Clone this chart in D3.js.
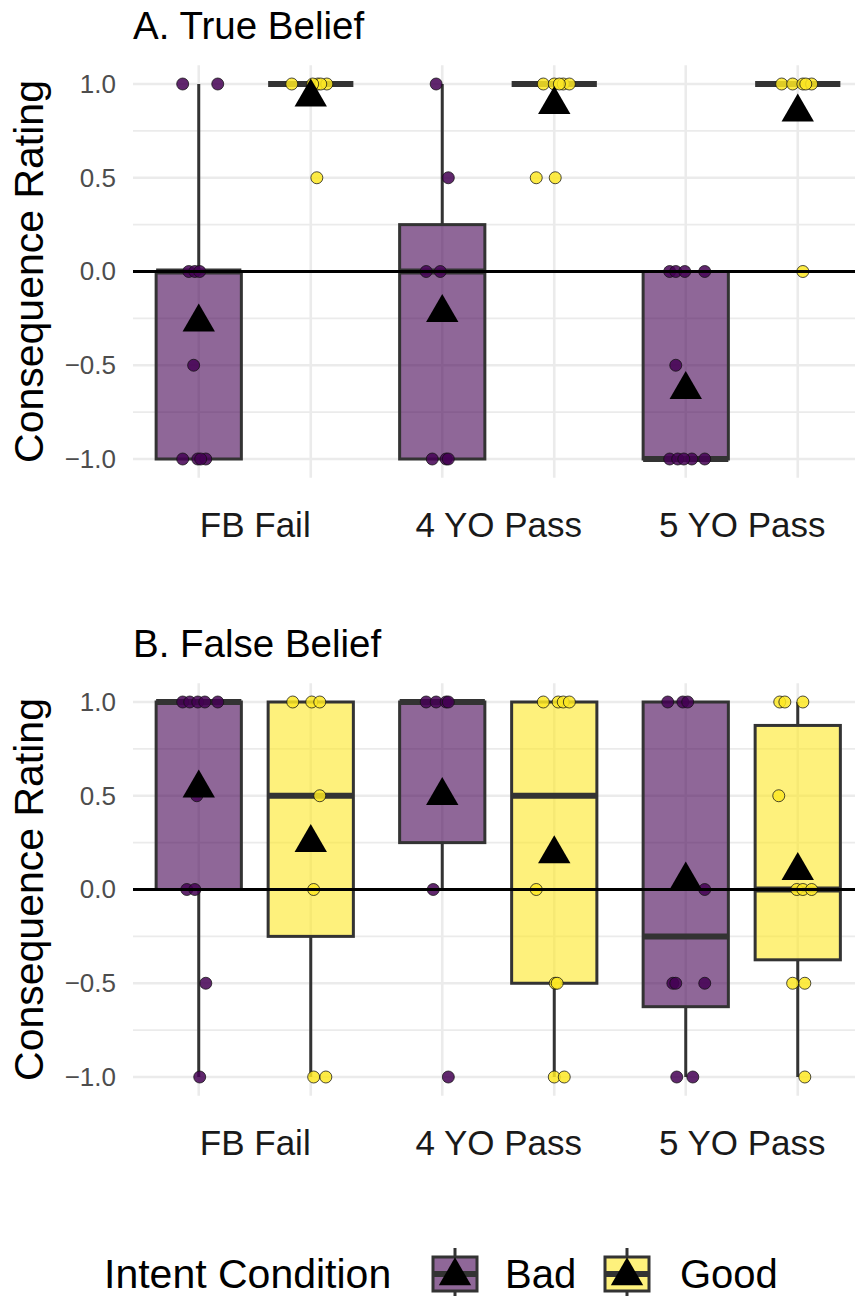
<!DOCTYPE html>
<html>
<head>
<meta charset="utf-8">
<script src="https://cdn.jsdelivr.net/npm/d3@7"></script>
<style>
  html, body { margin: 0; padding: 0; background: #fff; }
  svg { display: block; font-family: "Liberation Sans", Arial, Helvetica, sans-serif; }
</style>
</head>
<body>
<svg id="chart" width="855" height="1296"></svg>
<script>
// Categories, conditions and axis ticks
const categories = ["FB Fail", "4 YO Pass", "5 YO Pass"];
const conditions = ["Bad", "Good"];
const yMajorTicks = [-1, -0.5, 0, 0.5, 1];
const yMinorTicks = [-0.75, -0.25, 0.25, 0.75];
const panelTitles = ["A. True Belief", "B. False Belief"];
const legendTitle = "Intent Condition";

// Box summaries: [category, condition, lower whisker, q1, median, q3, upper whisker, mean]
const trueBeliefBoxes = [
  ["FB Fail",   "Bad",  -1, -1,    0,    0,    1,  -0.27],
  ["FB Fail",   "Good",  1,  1,    1,    1,    1,   0.93],
  ["4 YO Pass", "Bad",  -1, -1,    0,    0.25, 1,  -0.22],
  ["4 YO Pass", "Good",  1,  1,    1,    1,    1,   0.89],
  ["5 YO Pass", "Bad",  -1, -1,   -1,    0,    0,  -0.63],
  ["5 YO Pass", "Good",  1,  1,    1,    1,    1,   0.85]
];
const falseBeliefBoxes = [
  ["FB Fail",   "Bad",  -1,  0,     1,    1,     1,  0.54],
  ["FB Fail",   "Good", -1, -0.25,  0.5,  1,     1,  0.25],
  ["4 YO Pass", "Bad",   0,  0.25,  1,    1,     1,  0.50],
  ["4 YO Pass", "Good", -1, -0.5,   0.5,  1,     1,  0.19],
  ["5 YO Pass", "Bad",  -1, -0.625,-0.25, 1,     1,  0.05],
  ["5 YO Pass", "Good", -1, -0.375, 0,    0.875, 1,  0.10]
];

// Individual ratings: [category, condition, rating, jitter (fraction of category spacing)]
const trueBeliefPoints = [
  ["FB Fail","Bad",1,-0.066],["FB Fail","Bad",1,0.078],["FB Fail","Bad",0,-0.041],["FB Fail","Bad",0,-0.016],
  ["FB Fail","Bad",0,0.004],["FB Fail","Bad",-0.5,-0.021],["FB Fail","Bad",-1,-0.066],["FB Fail","Bad",-1,-0.004],
  ["FB Fail","Bad",-1,0.029],["FB Fail","Bad",-1,0.008],
  ["FB Fail","Good",1,-0.078],["FB Fail","Good",1,0.029],["FB Fail","Good",1,0.066],["FB Fail","Good",1,0.041],
  ["FB Fail","Good",1,0.008],["FB Fail","Good",0.5,0.025],
  ["4 YO Pass","Bad",1,-0.025],["4 YO Pass","Bad",0.5,0.025],["4 YO Pass","Bad",0,-0.066],["4 YO Pass","Bad",0,-0.008],
  ["4 YO Pass","Bad",-1,-0.041],["4 YO Pass","Bad",-1,0.016],["4 YO Pass","Bad",-1,0.025],
  ["4 YO Pass","Good",1,-0.045],["4 YO Pass","Good",1,0],["4 YO Pass","Good",1,0.037],["4 YO Pass","Good",1,0.062],
  ["4 YO Pass","Good",1,0.021],["4 YO Pass","Good",0.5,-0.074],["4 YO Pass","Good",0.5,0.004],
  ["5 YO Pass","Bad",0,-0.066],["5 YO Pass","Bad",0,-0.041],["5 YO Pass","Bad",0,-0.004],["5 YO Pass","Bad",0,0.078],
  ["5 YO Pass","Bad",-0.5,-0.041],["5 YO Pass","Bad",-1,-0.066],["5 YO Pass","Bad",-1,-0.033],["5 YO Pass","Bad",-1,0.025],
  ["5 YO Pass","Bad",-1,0.078],["5 YO Pass","Bad",-1,-0.008],
  ["5 YO Pass","Good",1,-0.066],["5 YO Pass","Good",1,-0.021],["5 YO Pass","Good",1,0.021],["5 YO Pass","Good",1,0.057],
  ["5 YO Pass","Good",1,0.033],["5 YO Pass","Good",0,0.021]
];
const falseBeliefPoints = [
  ["FB Fail","Bad",1,-0.066],["FB Fail","Bad",1,-0.037],["FB Fail","Bad",1,-0.004],["FB Fail","Bad",1,0.025],
  ["FB Fail","Bad",1,0.078],["FB Fail","Bad",0.5,-0.008],["FB Fail","Bad",0,-0.049],["FB Fail","Bad",0,-0.016],
  ["FB Fail","Bad",-0.5,0.029],["FB Fail","Bad",-1,0.004],
  ["FB Fail","Good",1,-0.074],["FB Fail","Good",1,0.004],["FB Fail","Good",1,0.037],["FB Fail","Good",0.5,0.037],
  ["FB Fail","Good",0,0.012],["FB Fail","Good",-1,0.012],["FB Fail","Good",-1,0.062],
  ["4 YO Pass","Bad",1,-0.066],["4 YO Pass","Bad",1,-0.025],["4 YO Pass","Bad",1,0.016],["4 YO Pass","Bad",1,0.025],
  ["4 YO Pass","Bad",0,-0.037],["4 YO Pass","Bad",-1,0.025],
  ["4 YO Pass","Good",1,-0.045],["4 YO Pass","Good",1,0.016],["4 YO Pass","Good",1,0.037],["4 YO Pass","Good",1,0.062],
  ["4 YO Pass","Good",0,-0.074],["4 YO Pass","Good",-0.5,0.004],["4 YO Pass","Good",-0.5,0.012],
  ["4 YO Pass","Good",-1,0],["4 YO Pass","Good",-1,0.041],
  ["5 YO Pass","Bad",1,-0.074],["5 YO Pass","Bad",1,-0.012],["5 YO Pass","Bad",1,0.008],["5 YO Pass","Bad",0,0.078],
  ["5 YO Pass","Bad",-0.5,-0.053],["5 YO Pass","Bad",-0.5,-0.041],["5 YO Pass","Bad",-0.5,0.078],
  ["5 YO Pass","Bad",-1,-0.037],["5 YO Pass","Bad",-1,0.029],
  ["5 YO Pass","Good",1,-0.074],["5 YO Pass","Good",1,-0.053],["5 YO Pass","Good",1,0.021],["5 YO Pass","Good",0.5,-0.078],
  ["5 YO Pass","Good",0,-0.004],["5 YO Pass","Good",0,0.021],["5 YO Pass","Good",0,0.057],
  ["5 YO Pass","Good",-0.5,-0.021],["5 YO Pass","Good",-0.5,0.029],["5 YO Pass","Good",-1,0.029]
];

// Styling
const pointFill = { Bad: "#440154", Good: "#FDE725" };
const boxAlpha = 0.6;
const boxStroke = "#333333";
const gridColor = "#ebebeb";
const W = 855, H = 1296;

const svg = d3.select("#chart");

// Shared horizontal scales
const x = d3.scalePoint().domain(categories).range([133, 863.5]).padding(0.5);
const step = x.step();
const dodge = d3.scaleBand().domain(conditions).range([-0.46 * step, 0.46 * step]);
const xPos = (cat, cond) => x(cat) + dodge(cond) + dodge.bandwidth() / 2;
const boxWidth = 0.35 * step;
const meanSymbol = d3.symbol().type(d3.symbolTriangle).size(454);

function drawPanel(panelIndex, yTop, boxes, points) {
  const y = d3.scaleLinear().domain([-1, 1]).range([yTop + 375, yTop]);
  const g = svg.append("g");
  const plotTop = y(1.1), plotBottom = y(-1.1);
  const plotLeft = 133, plotRight = W;

  // Grid
  g.append("g").selectAll("line").data(yMinorTicks).join("line")
    .attr("x1", plotLeft).attr("x2", plotRight)
    .attr("y1", d => y(d)).attr("y2", d => y(d))
    .attr("stroke", gridColor).attr("stroke-width", 1.6);
  g.append("g").selectAll("line").data(yMajorTicks).join("line")
    .attr("x1", plotLeft).attr("x2", plotRight)
    .attr("y1", d => y(d)).attr("y2", d => y(d))
    .attr("stroke", gridColor).attr("stroke-width", 2.6);
  const xGrid = [];
  categories.forEach(c => conditions.forEach(k => xGrid.push(xPos(c, k))));
  g.append("g").selectAll("line").data(xGrid).join("line")
    .attr("x1", d => d).attr("x2", d => d)
    .attr("y1", plotTop).attr("y2", plotBottom)
    .attr("stroke", gridColor).attr("stroke-width", 2.6);

  // Boxes
  const bg = g.append("g");
  boxes.forEach(([cat, cond, lo, q1, med, q3, hi]) => {
    const cx = xPos(cat, cond);
    bg.append("line").attr("x1", cx).attr("x2", cx).attr("y1", y(q3)).attr("y2", y(hi))
      .attr("stroke", boxStroke).attr("stroke-width", 3);
    bg.append("line").attr("x1", cx).attr("x2", cx).attr("y1", y(q1)).attr("y2", y(lo))
      .attr("stroke", boxStroke).attr("stroke-width", 3);
    bg.append("rect")
      .attr("x", cx - boxWidth / 2).attr("width", boxWidth)
      .attr("y", y(q3)).attr("height", y(q1) - y(q3))
      .attr("fill", pointFill[cond]).attr("fill-opacity", boxAlpha)
      .attr("stroke", boxStroke).attr("stroke-width", 3);
    bg.append("line")
      .attr("x1", cx - boxWidth / 2).attr("x2", cx + boxWidth / 2)
      .attr("y1", y(med)).attr("y2", y(med))
      .attr("stroke", boxStroke).attr("stroke-width", 6);
  });

  // Jittered ratings
  g.append("g").selectAll("circle").data(points).join("circle")
    .attr("cx", d => xPos(d[0], d[1]) + d[3] * step)
    .attr("cy", d => y(d[2]))
    .attr("r", 6)
    .attr("fill", d => pointFill[d[1]]).attr("fill-opacity", 0.85)
    .attr("stroke", "#111").attr("stroke-opacity", 0.75).attr("stroke-width", 1);

  // Reference line at zero
  g.append("line").attr("x1", plotLeft).attr("x2", plotRight)
    .attr("y1", y(0)).attr("y2", y(0))
    .attr("stroke", "#000").attr("stroke-width", 3);

  // Means
  g.append("g").selectAll("path").data(boxes).join("path")
    .attr("d", meanSymbol)
    .attr("transform", d => `translate(${xPos(d[0], d[1])},${y(d[7])})`)
    .attr("fill", "#000");

  // Axes
  const yAxis = g.append("g").attr("transform", `translate(${plotLeft},0)`)
    .call(d3.axisLeft(y).tickValues(yMajorTicks).tickSize(0).tickPadding(17).tickFormat(d3.format(".1f")));
  yAxis.select(".domain").remove();
  yAxis.selectAll("text").attr("font-size", 26).attr("fill", "#4d4d4d")
    .attr("font-family", "Liberation Sans, Arial, sans-serif");

  const xAxis = g.append("g").attr("transform", `translate(0,${yTop + 428})`)
    .call(d3.axisBottom(x).tickSize(0).tickPadding(0));
  xAxis.select(".domain").remove();
  xAxis.selectAll("text").attr("font-size", 35).attr("fill", "#1a1a1a")
    .attr("font-family", "Liberation Sans, Arial, sans-serif");

  // Axis title
  g.append("text")
    .attr("transform", `translate(43,${y(0)}) rotate(-90)`)
    .attr("text-anchor", "middle")
    .attr("font-size", 41).attr("fill", "#000")
    .text("Consequence Rating");

  // Panel title
  g.append("text")
    .attr("x", 133).attr("y", yTop - 45)
    .attr("font-size", 38.5).attr("fill", "#000")
    .text(panelTitles[panelIndex]);
}

drawPanel(0, 84, trueBeliefBoxes, trueBeliefPoints);
drawPanel(1, 702, falseBeliefBoxes, falseBeliefPoints);

// Legend
const legend = svg.append("g");
const legendBaseline = 1288;
legend.append("text").attr("x", 104).attr("y", legendBaseline)
  .attr("font-size", 41).attr("fill", "#000").text(legendTitle);

const keyCenters = { Bad: 455, Good: 627 };
const keyLabelX = { Bad: 505, Good: 680 };
conditions.forEach(cond => {
  const cx = keyCenters[cond], cy = 1274;
  const k = legend.append("g");
  k.append("line").attr("x1", cx).attr("x2", cx).attr("y1", cy - 26).attr("y2", cy - 17)
    .attr("stroke", boxStroke).attr("stroke-width", 3);
  k.append("line").attr("x1", cx).attr("x2", cx).attr("y1", cy + 17).attr("y2", cy + 28)
    .attr("stroke", boxStroke).attr("stroke-width", 3);
  k.append("rect").attr("x", cx - 22).attr("y", cy - 17).attr("width", 44).attr("height", 34)
    .attr("fill", pointFill[cond]).attr("fill-opacity", boxAlpha)
    .attr("stroke", boxStroke).attr("stroke-width", 3);
  k.append("line").attr("x1", cx - 22).attr("x2", cx + 22).attr("y1", cy).attr("y2", cy)
    .attr("stroke", boxStroke).attr("stroke-width", 6);
  k.append("path").attr("d", meanSymbol).attr("transform", `translate(${cx},${cy + 2})`)
    .attr("fill", "#000");
  legend.append("text").attr("x", keyLabelX[cond]).attr("y", legendBaseline)
    .attr("font-size", 40).attr("fill", "#000").text(cond);
});
</script>
</body>
</html>
